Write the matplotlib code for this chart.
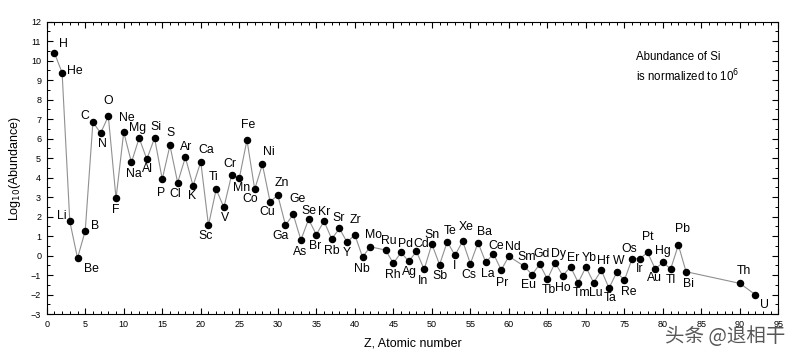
import matplotlib
matplotlib.use("Agg")
import matplotlib.pyplot as plt
from matplotlib.ticker import MultipleLocator

plt.rcParams['font.family'] = ['Liberation Sans', 'DejaVu Sans']

# ---- data ----
symbols = ["H", "He", "Li", "Be", "B", "C", "N", "O", "F", "Ne", "Na", "Mg", "Al", "Si",
           "P", "S", "Cl", "Ar", "K", "Ca", "Sc", "Ti", "V", "Cr", "Mn", "Fe", "Co", "Ni",
           "Cu", "Zn", "Ga", "Ge", "As", "Se", "Br", "Kr", "Rb", "Sr", "Y", "Zr", "Nb", "Mo",
           "Ru", "Rh", "Pd", "Ag", "Cd", "In", "Sn", "Sb", "Te", "I", "Xe", "Cs", "Ba", "La",
           "Ce", "Pr", "Nd", "Sm", "Eu", "Gd", "Tb", "Dy", "Ho", "Er", "Tm", "Yb", "Lu", "Hf",
           "Ta", "W", "Re", "Os", "Ir", "Pt", "Au", "Hg", "Tl", "Pb", "Bi", "Th", "U"]
atomic_numbers = [1, 2, 3, 4, 5, 6, 7, 8, 9, 10, 11, 12, 13, 14,
                  15, 16, 17, 18, 19, 20, 21, 22, 23, 24, 25, 26, 27, 28,
                  29, 30, 31, 32, 33, 34, 35, 36, 37, 38, 39, 40, 41, 42,
                  44, 45, 46, 47, 48, 49, 50, 51, 52, 53, 54, 55, 56, 57,
                  58, 59, 60, 62, 63, 64, 65, 66, 67, 68, 69, 70, 71, 72,
                  73, 74, 75, 76, 77, 78, 79, 80, 81, 82, 83, 90, 92]
log_abundance = [10.40, 9.38, 1.75, -0.13, 1.26, 6.85, 6.28, 7.15, 2.93, 6.33, 4.78, 6.03, 4.94, 6.03,
                 3.92, 5.65, 3.74, 5.04, 3.58, 4.81, 1.55, 3.40, 2.47, 4.13, 3.96, 5.93, 3.40, 4.68,
                 2.76, 3.10, 1.56, 2.11, 0.80, 1.86, 1.07, 1.77, 0.85, 1.39, 0.68, 1.07, -0.08, 0.45,
                 0.28, -0.40, 0.16, -0.30, 0.21, -0.71, 0.59, -0.47, 0.71, 0.01, 0.74, -0.42, 0.66, -0.35,
                 0.09, -0.74, -0.04, -0.55, -0.98, -0.45, -1.21, -0.37, -1.04, -0.57, -1.39, -0.59, -1.39, -0.76,
                 -1.67, -0.86, -1.26, -0.16, -0.16, 0.16, -0.69, -0.35, -0.69, 0.54, -0.83, -1.43, -2.01]

# label placement (pixel offsets from marker: dx right, dy up)
label_offsets = {
    "H": (9, 9), "He": (13, 2), "Li": (-8, 5.5), "Be": (13.5, -11), "B": (9.5, 5),
    "C": (-8.5, 6), "N": (1.5, -11), "O": (0, 15), "F": (0, -11.5), "Ne": (3, 14.5),
    "Na": (2, -12), "Mg": (-2, 10.5), "Al": (1, -9.5), "Si": (1, 11), "P": (-1, -13.5),
    "S": (0.5, 12.5), "Cl": (-2, -11), "Ar": (0.5, 10.5), "K": (-0.5, -10.5), "Ca": (5, 11.5),
    "Sc": (-2.5, -10.5), "Ti": (-2.5, 12.5), "V": (1.5, -11), "Cr": (-2, 11.5), "Mn": (2, -10),
    "Fe": (1.5, 15), "Co": (-4, -9.5), "Ni": (6, 12.5), "Cu": (-3, -10), "Zn": (4, 12.5),
    "Ga": (-5, -10.5), "Ge": (4, 15), "As": (-1, -12.5), "Se": (0.5, 8.5), "Br": (-1.5, -11),
    "Kr": (0, 9), "Rb": (0, -12.5), "Sr": (-1, 10.5), "Y": (0, -11), "Zr": (1, 14.5),
    "Nb": (-1, -12), "Mo": (3.5, 11.5), "Ru": (3.5, 9.5), "Rh": (-1, -11.5), "Pd": (4, 8.5),
    "Ag": (1, -11), "Cd": (4.5, 7), "In": (-1, -12), "Sn": (0, 9.5), "Sb": (0.5, -11),
    "Te": (2.5, 10.5), "I": (-0.5, -10.5), "Xe": (3.5, 14), "Cs": (-1, -11.5), "Ba": (6.5, 10.5),
    "La": (2, -11.5), "Ce": (3, 8), "Pr": (0.5, -13.5), "Nd": (3.5, 9), "Sm": (2, 9),
    "Eu": (-3.5, -10), "Gd": (1.5, 10), "Tb": (1.5, -11), "Dy": (3.5, 8.5), "Ho": (0.5, -12.5),
    "Er": (3, 9), "Tm": (3, -10.5), "Yb": (3.5, 9.5), "Lu": (2.5, -10), "Hf": (1.5, 9.5),
    "Ta": (1, -9.5), "W": (2, 11), "Re": (4, -11.5), "Os": (-3, 9.5), "Ir": (0, -10.5),
    "Pt": (0, 15.5), "Au": (-1, -9.5), "Hg": (0, 11.5), "Tl": (0, -11), "Pb": (4.5, 16.5),
    "Bi": (2.5, -12.5), "Th": (3.5, 12.5), "U": (9, -10.5),
}

x_ticks = list(range(0, 96, 5))
y_ticks = list(range(-3, 13, 1))

# ---- figure ----
fig = plt.figure(figsize=(8.0, 3.57), dpi=100)
ax = fig.add_axes([46.7 / 800, 43 / 357, (778.5 - 46.7) / 800, (314 - 21.7) / 357])

ax.plot(atomic_numbers, log_abundance, color='#909090', lw=0.8, zorder=1)
ax.plot(atomic_numbers, log_abundance, 'o', color='black', ms=4.4, zorder=2)

px2pt = 0.72
for sym, z, v in zip(symbols, atomic_numbers, log_abundance):
    dx, dy = label_offsets[sym]
    ax.annotate(sym, (z, v), xytext=(dx * px2pt, dy * px2pt), textcoords='offset points',
                ha='center', va='center', fontsize=8.8, color='black', zorder=3)

ax.set_xlim(0, 95)
ax.set_ylim(-3, 12)
ax.set_xticks(x_ticks)
ax.set_yticks(y_ticks)
ax.xaxis.set_minor_locator(MultipleLocator(1))
ax.yaxis.set_minor_locator(MultipleLocator(0.5))
ax.tick_params(which='both', direction='in', top=True, right=True, labelsize=6.5, colors='black',
               pad=4)
ax.tick_params(which='major', length=4, width=0.8)
ax.tick_params(which='minor', length=2, width=0.7)
for s in ax.spines.values():
    s.set_linewidth(0.8)

fig.text((46.7 + 778.5) / 2 / 800, 1 - 344 / 357, "Z, Atomic number", ha='center', va='center',
         fontsize=9)
fig.text(15 / 800, 1 - 168 / 357, r"Log$_{10}$(Abundance)", ha='center', va='center',
         rotation=90, fontsize=9)

fig.text(636 / 800, 1 - 57 / 357, "Abundance of Si", ha='left', va='center', fontsize=8.3)
fig.text(636 / 800, 1 - 76 / 357, r"is normalized to 10$^{6}$", ha='left', va='center', fontsize=8.3)

fig.text(725 / 800, 1 - 337 / 357, "头条 @退相干", ha='center', va='center', fontsize=14,
         color='#3a3a3a', alpha=0.85, family=['Noto Sans CJK SC', 'DejaVu Sans'])

fig.savefig("out.png", dpi=100)
